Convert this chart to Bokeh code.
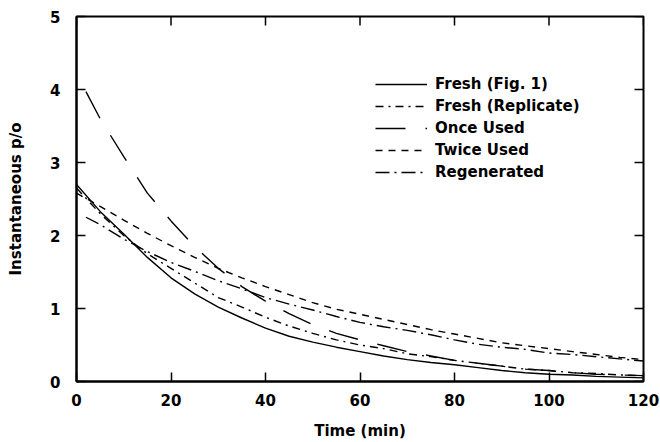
import math
from bokeh.plotting import figure
from bokeh.models import Legend, LegendItem, FixedTicker, Range1d
from bokeh.embed import file_html
from bokeh.resources import INLINE

# Time axis (min)
t_full = [0, 5, 10, 15, 20, 25, 30, 35, 40, 45, 50, 55, 60, 65, 70, 75, 80, 85, 90, 95, 100, 105, 110, 115, 120]
t_late = [2, 5, 10, 15, 20, 25, 30, 35, 40, 45, 50, 55, 60, 65, 70, 75, 80, 85, 90, 95, 100, 105, 110, 115, 120]

fresh_fig1 = [2.70, 2.33, 2.02, 1.70, 1.42, 1.20, 1.02, 0.87, 0.73, 0.62, 0.54, 0.47, 0.41, 0.35, 0.30, 0.26, 0.23, 0.19, 0.15, 0.12, 0.10, 0.09, 0.07, 0.06, 0.05]
fresh_rep = [2.65, 2.30, 2.00, 1.75, 1.55, 1.35, 1.15, 1.02, 0.88, 0.76, 0.66, 0.57, 0.50, 0.45, 0.38, 0.34, 0.29, 0.25, 0.21, 0.17, 0.15, 0.12, 0.11, 0.09, 0.08]
once_used = [3.97, 3.60, 3.08, 2.58, 2.20, 1.85, 1.55, 1.30, 1.10, 0.93, 0.78, 0.66, 0.57, 0.49, 0.41, 0.35, 0.29, 0.25, 0.21, 0.17, 0.15, 0.12, 0.10, 0.09, 0.08]
twice_used = [2.58, 2.40, 2.21, 2.03, 1.86, 1.70, 1.55, 1.42, 1.30, 1.19, 1.08, 0.99, 0.92, 0.85, 0.78, 0.71, 0.65, 0.59, 0.53, 0.49, 0.45, 0.41, 0.37, 0.33, 0.30]
regenerated = [2.25, 2.15, 1.95, 1.78, 1.63, 1.51, 1.38, 1.27, 1.15, 1.06, 0.98, 0.89, 0.81, 0.75, 0.70, 0.64, 0.57, 0.51, 0.47, 0.44, 0.39, 0.37, 0.34, 0.31, 0.28]

x_ticks = [0, 20, 40, 60, 80, 100, 120]
y_ticks = [0, 1, 2, 3, 4, 5]

FONT = "DejaVu Sans"

p = figure(width=660, height=442, output_backend="svg", toolbar_location=None,
           x_range=Range1d(0, 120), y_range=Range1d(0, 5),
           min_border_left=76, min_border_right=17, min_border_top=16, min_border_bottom=61)
p.grid.visible = False
p.outline_line_color = "black"
p.outline_line_width = 2
p.background_fill_color = "white"
p.border_fill_color = "white"

for ax, ticks in ((p.xaxis[0], x_ticks), (p.yaxis[0], y_ticks)):
    ax.ticker = FixedTicker(ticks=ticks)
    ax.axis_line_color = "black"
    ax.axis_line_width = 2
    ax.major_tick_in = 9
    ax.major_tick_out = 0
    ax.major_tick_line_width = 1.5
    ax.minor_tick_line_color = None
    ax.major_label_text_font = FONT
    ax.major_label_text_font_style = "bold"
    ax.major_label_text_font_size = "15px"
    ax.major_label_text_color = "black"
    ax.axis_label_text_font = FONT
    ax.axis_label_text_font_style = "bold"
    ax.axis_label_text_font_size = "15px"
    ax.axis_label_text_color = "black"

p.xaxis[0].axis_label = "Time (min)"
p.yaxis[0].axis_label = "Instantaneous p/o"
p.xaxis[0].major_label_standoff = 12
p.xaxis[0].axis_label_standoff = 13
p.yaxis[0].major_label_standoff = 16
p.yaxis[0].axis_label_standoff = 22

# inward ticks on the top and right edges of the frame
p.ray(x=x_ticks, y=y_ticks[-1], length=9, length_units="screen", angle=-math.pi / 2,
      line_color="black", line_width=1.5)
p.ray(x=x_ticks[-1], y=y_ticks, length=9, length_units="screen", angle=math.pi,
      line_color="black", line_width=1.5)

lw = 1.4
r1 = p.line(t_full, fresh_fig1, line_color="black", line_width=lw)
r2 = p.line(t_full, fresh_rep, line_color="black", line_width=lw, line_dash="8 5 2 5")
r3 = p.line(t_late, once_used, line_color="black", line_width=lw, line_dash="30 20")
r4 = p.line(t_full, twice_used, line_color="black", line_width=lw, line_dash="7 6")
r5 = p.line(t_late, regenerated, line_color="black", line_width=lw, line_dash="14 5 2 5")

legend = Legend(items=[
    LegendItem(label="Fresh (Fig. 1)", renderers=[r1]),
    LegendItem(label="Fresh (Replicate)", renderers=[r2]),
    LegendItem(label="Once Used", renderers=[r3]),
    LegendItem(label="Twice Used", renderers=[r4]),
    LegendItem(label="Regenerated", renderers=[r5]),
], location=(299, 199))
legend.border_line_color = None
legend.background_fill_alpha = 0
legend.label_text_font = FONT
legend.label_text_font_style = "bold"
legend.label_text_font_size = "15px"
legend.label_text_color = "black"
legend.glyph_width = 52
legend.glyph_height = 20
legend.label_height = 20
legend.spacing = 2
legend.label_standoff = 8
legend.padding = 0
legend.margin = 0
p.add_layout(legend, "center")

open("out.html", "w").write(file_html(p, INLINE))
